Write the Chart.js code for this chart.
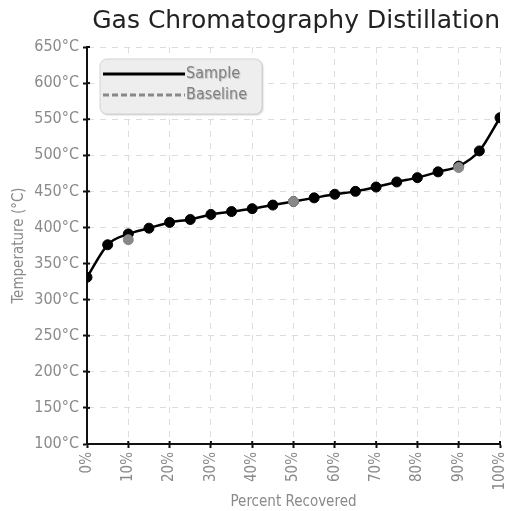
<!DOCTYPE html>
<html><head><meta charset="utf-8">
<script src="https://cdn.jsdelivr.net/npm/chart.js@4/dist/chart.umd.min.js"></script>
<style>html,body{margin:0;padding:0;background:#fff}#wrap{width:508px;height:511px}</style>
</head><body><div id="wrap"><canvas id="c"></canvas></div>
<script>
const percentRecovered = [0,5,10,15,20,25,30,35,40,45,50,55,60,65,70,75,80,85,90,95,100];
const sampleTemps = [331,376,391,399,407,411,418,422,426,431,436,441,446,450,456,463,469,477,485,506,552];
const baselinePercent = [10,50,90];
const baselineTemps = [383,436,483];
const yTicksMin = 100, yTicksMax = 650, yStep = 50;
const xStep = 10;

const NARROW = "'Liberation Sans Narrow','DejaVu Sans Condensed',sans-serif";

const legendPlugin = {
  id: 'boxLegend',
  afterDraw(chart) {
    const ctx = chart.ctx, a = chart.chartArea;
    const x = a.left + 13, y = a.top + 12, w = 162, h = 55, r = 7;
    ctx.save();
    ctx.shadowColor = 'rgba(0,0,0,0.25)'; ctx.shadowOffsetX = 1; ctx.shadowOffsetY = 1; ctx.shadowBlur = 2;
    ctx.beginPath(); ctx.roundRect(x, y, w, h, r);
    ctx.fillStyle = '#eeeeee'; ctx.fill();
    ctx.shadowColor = 'transparent';
    ctx.strokeStyle = '#d4d4d4'; ctx.lineWidth = 1; ctx.stroke();
    chart.data.datasets.forEach((ds, i) => {
      const ly = y + 15 + i * 21;
      ctx.beginPath(); ctx.setLineDash(ds.legendDash || []);
      ctx.strokeStyle = ds.legendColor; ctx.lineWidth = 3;
      ctx.moveTo(x + 3, ly); ctx.lineTo(x + 85, ly); ctx.stroke();
      ctx.setLineDash([]);
      ctx.font = "16px " + NARROW; ctx.fillStyle = '#808080';
      ctx.textBaseline = 'middle'; ctx.textAlign = 'left';
      ctx.shadowColor = 'rgba(0,0,0,0.2)'; ctx.shadowOffsetX = 1; ctx.shadowOffsetY = 1; ctx.shadowBlur = 1;
      ctx.fillText(ds.label, x + 86, ly);
      ctx.shadowColor = 'transparent';
    });
    ctx.restore();
  }
};

const crossTicks = {
  id: 'crossTicks',
  afterDatasetsDraw(chart) {
    const ctx = chart.ctx, a = chart.chartArea;
    const xs = chart.scales.x, ys = chart.scales.y;
    ctx.save(); ctx.strokeStyle = '#111'; ctx.lineWidth = 2;
    ys.ticks.forEach(t => { const py = ys.getPixelForValue(t.value); ctx.beginPath(); ctx.moveTo(a.left, py); ctx.lineTo(a.left + 3, py); ctx.stroke(); });
    xs.ticks.forEach(t => { const px = xs.getPixelForValue(t.value); ctx.beginPath(); ctx.moveTo(px, a.bottom); ctx.lineTo(px, a.bottom - 3); ctx.stroke(); });
    ctx.restore();
  }
};

new Chart(document.getElementById('c'), {
  type: 'line',
  data: {
    datasets: [
      { label: 'Sample', data: percentRecovered.map((p, i) => ({x: p, y: sampleTemps[i]})),
        borderColor: '#000', backgroundColor: '#000', borderWidth: 2.5,
        pointRadius: 5, pointBackgroundColor: '#000', pointBorderColor: '#000', pointBorderWidth: 1,
        cubicInterpolationMode: 'monotone', order: 1, legendColor: '#000' },
      { label: 'Baseline', data: baselinePercent.map((p, i) => ({x: p, y: baselineTemps[i]})),
        borderColor: '#888', backgroundColor: '#888', borderWidth: 2.5, borderDash: [6, 3], showLine: false,
        pointRadius: 5, pointBackgroundColor: '#888', pointBorderColor: '#888', pointBorderWidth: 1,
        order: 0, legendColor: '#888', legendDash: [6, 3] }
    ]
  },
  options: {
    responsive: true, maintainAspectRatio: false, animation: false,
    layout: { padding: { left: 0, right: 8, top: 4, bottom: 0 } },
    plugins: {
      legend: { display: false }, tooltip: { enabled: false },
      title: { display: true, text: 'Gas Chromatography Distillation', align: 'end',
        color: '#222', font: { family: "'DejaVu Sans',sans-serif", size: 25, weight: 'normal' },
        padding: { top: 2, bottom: 11 } }
    },
    scales: {
      x: { type: 'linear', min: 0, max: 100,
        ticks: { stepSize: xStep, maxRotation: 90, minRotation: 90, color: '#8a8a8a', padding: 4,
          font: { family: NARROW, size: 15 }, callback: v => v + '%' },
        grid: { color: '#dddddd', tickLength: 4, tickColor: '#111', tickWidth: 2 },
        border: { display: true, color: '#111', width: 2, dash: [6, 6] },
        title: { display: true, text: 'Percent Recovered', color: '#8a8a8a', font: { family: NARROW, size: 15 }, padding: { top: 2, bottom: 0 } },
        afterFit(s) { s.height = 67; s.paddingLeft = 0; s.paddingRight = 0; }
      },
      y: { min: yTicksMin, max: yTicksMax,
        ticks: { stepSize: yStep, color: '#8a8a8a', padding: 4, font: { family: NARROW, size: 16 }, callback: v => v + '°C' },
        grid: { color: '#dddddd', tickLength: 4, tickColor: '#111', tickWidth: 2 },
        border: { display: true, color: '#111', width: 2, dash: [6, 6] },
        title: { display: true, text: 'Temperature (°C)', color: '#8a8a8a', font: { family: NARROW, size: 15 }, padding: { top: 10, bottom: 0 } },
        afterFit(s) { s.width = 87; }
      }
    }
  },
  plugins: [legendPlugin, crossTicks]
});
</script></body></html>
